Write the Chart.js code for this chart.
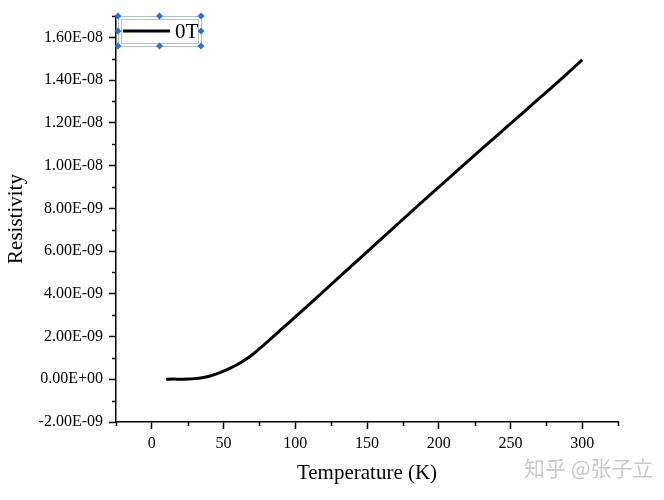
<!DOCTYPE html>
<html>
<head>
<meta charset="utf-8">
<script src="https://cdn.jsdelivr.net/npm/chart.js@4/dist/chart.umd.min.js"></script>
<style>
  body { margin: 0; background: #fff; }
  #wrap { position: relative; width: 664px; height: 500px; }
  #mark { position: absolute; left: 524px; top: 452px; font: 21px "Noto Sans CJK SC", sans-serif; color: #c9c9c9; white-space: nowrap; }
</style>
</head>
<body>
<div id="wrap">
  <canvas id="chart" width="664" height="500"></canvas>
  <div id="mark">知乎 @张子立</div>
</div>
<script>
// temperature (K) and resistivity
const temperature = [10, 15, 20, 25, 30, 35, 40, 45, 50, 55, 60, 65, 70, 75, 80, 85, 90, 95, 100,
  110, 120, 130, 140, 150, 160, 170, 180, 190, 200, 210, 220, 230, 240, 250, 260, 270, 280, 290, 300];
const resistivity = [0.00e-9, 0.01e-9, 0.00e-9, 0.01e-9, 0.03e-9, 0.07e-9, 0.14e-9, 0.25e-9, 0.38e-9, 0.53e-9,
  0.70e-9, 0.91e-9, 1.15e-9, 1.43e-9, 1.72e-9, 2.02e-9, 2.32e-9, 2.62e-9, 2.92e-9,
  3.52e-9, 4.13e-9, 4.74e-9, 5.35e-9, 5.96e-9, 6.57e-9, 7.18e-9, 7.79e-9, 8.39e-9, 8.99e-9,
  9.59e-9, 10.19e-9, 10.78e-9, 11.37e-9, 11.96e-9, 12.55e-9, 13.14e-9, 13.73e-9, 14.33e-9, 14.95e-9];
const seriesName = '0T';

const xTicks = [-25, 0, 25, 50, 75, 100, 125, 150, 175, 200, 225, 250, 275, 300, 325];
const xLabels = [0, 50, 100, 150, 200, 250, 300];
const yTicks = [-2e-9, -1e-9, 0, 1e-9, 2e-9, 3e-9, 4e-9, 5e-9, 6e-9, 7e-9, 8e-9, 9e-9, 10e-9,
  11e-9, 12e-9, 13e-9, 14e-9, 15e-9, 16e-9, 17e-9];
const yLabels = [-2e-9, 0, 2e-9, 4e-9, 6e-9, 8e-9, 10e-9, 12e-9, 14e-9, 16e-9];

const serif = 'Liberation Serif';

function sci(v) {
  const [m, e] = v.toExponential(2).split('e');
  const n = parseInt(e, 10);
  return m + 'E' + (n < 0 ? '-' : '+') + String(Math.abs(n)).padStart(2, '0');
}
const isLabel = (list, v) => list.some(t => Math.abs(t - v) < 1e-12 * Math.max(1, Math.abs(t)) || Math.abs(t - v) < 1e-15);

// short minor ticks + Origin-like legend box
const extras = {
  id: 'extras',
  afterDraw(chart) {
    const ctx = chart.ctx;
    const xs = chart.scales.x, ys = chart.scales.y;
    ctx.save();
    ctx.strokeStyle = '#000';
    ctx.lineWidth = 1.5;
    ctx.beginPath();
    xTicks.filter(t => !isLabel(xLabels, t)).forEach(t => {
      const px = Math.round(xs.getPixelForValue(t)) + 0.5;
      ctx.moveTo(px, xs.top);
      ctx.lineTo(px, xs.top + 4);
    });
    yTicks.filter(t => !isLabel(yLabels, t)).forEach(t => {
      const py = Math.round(ys.getPixelForValue(t)) + 0.5;
      ctx.moveTo(ys.right, py);
      ctx.lineTo(ys.right - 4, py);
    });
    ctx.stroke();

    // legend
    const L = 118, T = 16, R = 201, B = 46, M = (T + B) / 2;
    ctx.lineWidth = 1;
    ctx.strokeStyle = '#a7c0d6';
    ctx.strokeRect(L + 0.5, T + 0.5, R - L, B - T);
    ctx.strokeStyle = '#b9c3cb';
    ctx.strokeRect(L + 3.5, T + 3.5, R - L - 6, B - T - 6);
    ctx.strokeStyle = '#000';
    ctx.lineWidth = 3;
    ctx.beginPath();
    ctx.moveTo(123, M);
    ctx.lineTo(170, M);
    ctx.stroke();
    ctx.fillStyle = '#000';
    ctx.font = '21px "' + serif + '"';
    ctx.textBaseline = 'middle';
    ctx.fillText(chart.data.datasets[0].label, 175, M + 1);
    ctx.fillStyle = '#2a72d4';
    const mx = (L + R) / 2;
    [[L, T], [mx, T], [R, T], [L, M], [R, M], [L, B], [mx, B], [R, B]].forEach(([px, py]) => {
      ctx.beginPath();
      ctx.moveTo(px, py - 3.5);
      ctx.lineTo(px + 3.5, py);
      ctx.lineTo(px, py + 3.5);
      ctx.lineTo(px - 3.5, py);
      ctx.closePath();
      ctx.fill();
    });
    ctx.restore();
  }
};

new Chart(document.getElementById('chart'), {
  type: 'line',
  data: {
    datasets: [{
      label: seriesName,
      data: temperature.map((t, i) => ({ x: t, y: resistivity[i] })),
      borderColor: '#000',
      borderWidth: 3,
      pointRadius: 0,
      cubicInterpolationMode: 'monotone'
    }]
  },
  options: {
    responsive: false,
    animation: false,
    layout: { padding: { top: 16, right: 46, left: 0, bottom: 0 } },
    plugins: { legend: { display: false }, tooltip: { enabled: false } },
    scales: {
      x: {
        type: 'linear',
        min: -25,
        max: 325,
        afterBuildTicks: s => { s.ticks = xTicks.map(v => ({ value: v })); },
        afterFit: s => { s.height = 78; },
        ticks: {
          autoSkip: false,
          maxRotation: 0,
          padding: 5,
          color: '#000',
          font: { family: serif, size: 16 },
          callback: v => isLabel(xLabels, v) ? String(v) : null
        },
        grid: { display: true, drawOnChartArea: false, drawTicks: true, tickLength: 7, tickColor: '#000', tickWidth: 1.5 },
        border: { display: true, color: '#000', width: 1.5 },
        title: { display: true, text: 'Temperature (K)', color: '#000', font: { family: serif, size: 21 }, padding: { top: 0, bottom: 14 } }
      },
      y: {
        type: 'linear',
        min: -2e-9,
        max: 17e-9,
        afterBuildTicks: s => { s.ticks = yTicks.map(v => ({ value: v })); },
        afterFit: s => { s.width = 116; },
        ticks: {
          autoSkip: false,
          padding: 6,
          color: '#000',
          font: { family: serif, size: 16 },
          callback: v => isLabel(yLabels, v) ? sci(v) : null
        },
        grid: { display: true, drawOnChartArea: false, drawTicks: true, tickLength: 7, tickColor: '#000', tickWidth: 1.5 },
        border: { display: true, color: '#000', width: 1.5 },
        title: { display: true, text: 'Resistivity', color: '#000', font: { family: serif, size: 21 }, padding: { top: 4, bottom: 0 } }
      }
    }
  },
  plugins: [extras]
});
</script>
</body>
</html>
